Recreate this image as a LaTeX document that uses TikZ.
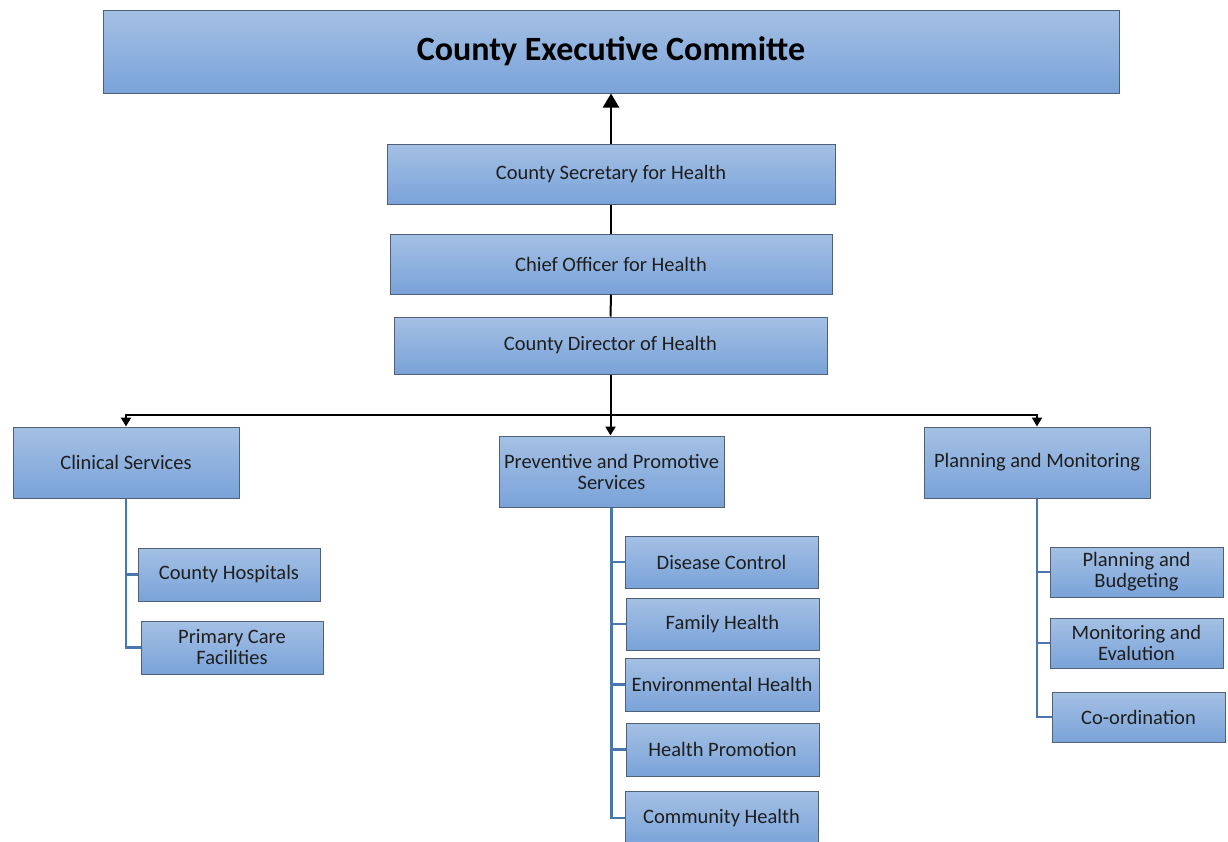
\documentclass[tikz,border=0pt]{standalone}
\usepackage{fontspec}
\setmainfont{Carlito}
\usetikzlibrary{arrows.meta}
\definecolor{boxTop}{RGB}{164,192,228}
\definecolor{boxBottom}{RGB}{122,163,217}
\definecolor{boxBorder}{RGB}{80,96,120}
\definecolor{branchColor}{RGB}{74,118,174}
\definecolor{textColor}{RGB}{30,30,30}
\tikzstyle{chart} = [x = 1pt, y = -1pt]
\tikzstyle{unitStyle} = [draw=boxBorder, line width=1pt, top color=boxTop, bottom color=boxBottom, text=textColor, font=\fontsize{20.5}{21}\selectfont, align=center, inner sep=1pt]
\tikzstyle{titleStyle} = [unitStyle, text=black, font=\fontsize{34}{38}\selectfont\bfseries]
\tikzstyle{chainLine} = [black, line width=2pt]
\tikzstyle{branchLine} = [branchColor, line width=2.3pt]
\newcommand{\unitBox}[6]{\node [unitStyle, minimum width=#4pt, minimum height=#5pt] (#1) at (#2,#3) {#6};}

\begin{document}
\begin{tikzpicture}[chart]
  \useasboundingbox (0,0) rectangle (1228,841);
  \begin{scope}
    \clip (0,0) rectangle (1228,841);
    \node [titleStyle, minimum width=1016pt, minimum height=83pt] (exec) at (611,51.5) {County Executive Committe};
    \unitBox{sec}{611}{174}{448}{60}{County Secretary for Health}
    \unitBox{chief}{611}{264}{442}{60}{Chief Officer for Health}
    \unitBox{dir}{610.5}{345.5}{433}{57}{County Director of Health}
    \unitBox{clin}{126}{462.5}{226}{71}{Clinical Services}
    \unitBox{prev}{611.5}{471.5}{225}{71}{Preventive and Promotive\\Services}
    \unitBox{plan}{1037}{462.5}{226}{71}{Planning and Monitoring}
    \unitBox{hosp}{229}{574.5}{182}{53}{County Hospitals}
    \unitBox{prim}{232}{647.5}{182}{53}{Primary Care\\Facilities}
    \unitBox{dis}{721.5}{562}{193}{52}{Disease Control}
    \unitBox{fam}{722.5}{624}{193}{52}{Family Health}
    \unitBox{env}{722}{684.5}{194}{53}{Environmental Health}
    \unitBox{prom}{722.5}{749.5}{193}{53}{Health Promotion}
    \unitBox{comm}{721.5}{818}{193}{54}{Community Health}
    \unitBox{budg}{1136.5}{572}{173}{50}{Planning and\\Budgeting}
    \unitBox{mon}{1136.5}{643}{173}{50}{Monitoring and\\Evalution}
    \unitBox{coord}{1138.5}{717}{173}{50}{Co-ordination}

    \draw [chainLine] (dir.north) -- (chief.south);
    \draw [chainLine] (chief.north) -- (sec.south);
    \draw [chainLine, -{Triangle[length=14pt, width=16pt]}] (sec.north) -- (exec.south);

    \coordinate (bar) at (611,415);
    \draw [chainLine, -{Triangle[length=9pt, width=10pt]}] (dir.south) -- (dir.south |- prev.north);
    \draw [chainLine, -{Triangle[length=9pt, width=10pt]}] (bar) -| (clin.north);
    \draw [chainLine, -{Triangle[length=9pt, width=10pt]}] (bar) -| (plan.north);

    \draw [branchLine] (clin.south) -- (clin.south |- prim.west) -- (prim.west);
    \draw [branchLine] (clin.south |- hosp.west) -- (hosp.west);
    \draw [branchLine] (prev.south) -- (prev.south |- comm.west) -- (comm.west);
    \foreach \unit in {dis, fam, env, prom} {
      \draw [branchLine] (prev.south |- \unit.west) -- (\unit.west);
    }
    \draw [branchLine] (plan.south) -- (plan.south |- coord.west) -- (coord.west);
    \foreach \unit in {budg, mon} {
      \draw [branchLine] (plan.south |- \unit.west) -- (\unit.west);
    }
  \end{scope}
\end{tikzpicture}
\end{document}
